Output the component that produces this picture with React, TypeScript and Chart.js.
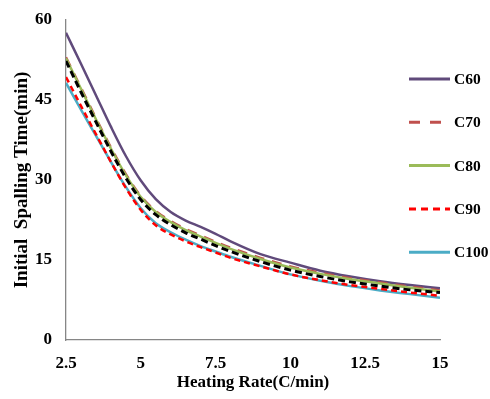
import React, { useEffect, useRef } from "react";
import { Chart, registerables } from "chart.js";

Chart.register(...registerables);

const heatingRates = [2.5, 3, 3.5, 4, 4.5, 5, 5.5, 6, 6.5, 7, 7.5, 8, 9, 10, 11, 12, 13, 14, 15];
const c60 = [57.6, 51.8, 45.9, 40.0, 34.5, 29.9, 26.4, 24.0, 22.4, 21.2, 19.9, 18.5, 16.1, 14.5, 13.0, 11.9, 11.0, 10.3, 9.7];
const c70 = [53.0, 47.3, 41.6, 36.1, 31.1, 27.0, 24.2, 22.3, 20.8, 19.6, 18.4, 17.3, 15.4, 13.8, 12.6, 11.6, 10.8, 10.0, 9.3];
const c80 = [52.8, 47.1, 41.4, 35.9, 30.9, 26.8, 24.0, 22.1, 20.6, 19.4, 18.2, 17.1, 15.2, 13.6, 12.4, 11.4, 10.6, 9.8, 9.1];
const c90 = [49.3, 43.9, 38.6, 33.4, 28.5, 24.4, 21.5, 19.8, 18.5, 17.4, 16.4, 15.4, 13.8, 12.3, 11.2, 10.3, 9.6, 8.9, 8.3];
const c100 = [48.2, 43.2, 38.3, 33.4, 28.7, 24.7, 21.9, 20.2, 18.8, 17.6, 16.6, 15.6, 13.9, 12.3, 11.1, 10.1, 9.3, 8.6, 7.9];
const unlabeled = [52.3, 46.5, 40.9, 35.4, 30.4, 26.3, 23.5, 21.6, 20.1, 18.9, 17.7, 16.6, 14.7, 13.1, 11.9, 10.9, 10.1, 9.4, 8.9];

const seriesLabels = ["C60", "C70", "C80", "C90", "C100"];
const xTitle = "Heating Rate(C/min)";
const yTitle = "Initial  Spalling Time(min)";

const FONT = "'Liberation Serif', 'Times New Roman', serif";

const toPoints = (ys: number[]) => heatingRates.map((x, i) => ({ x, y: ys[i] }));

const legendPlugin = {
  id: "sideLegend",
  afterDraw(chart: any) {
    const ctx = chart.ctx;
    const items = chart.data.datasets.filter((d: any) => d.inLegend);
    ctx.save();
    items.forEach((d: any, i: number) => {
      const y = 79 + i * 43.3;
      ctx.beginPath();
      ctx.strokeStyle = d.borderColor;
      ctx.lineWidth = 3;
      ctx.setLineDash(d.legendDash || []);
      ctx.moveTo(409, y);
      ctx.lineTo(450, y);
      ctx.stroke();
      ctx.setLineDash([]);
      ctx.fillStyle = "#000";
      ctx.font = `bold 15.5px ${FONT}`;
      ctx.textBaseline = "middle";
      ctx.textAlign = "left";
      ctx.fillText(d.label, 454, y + 1);
    });
    ctx.restore();
  },
};

export default function App() {
  const ref = useRef<HTMLCanvasElement | null>(null);
  useEffect(() => {
    if (!ref.current) return;
    const common = {
      fill: false,
      pointRadius: 0,
      cubicInterpolationMode: "monotone" as const,
      borderWidth: 2.5,
    };
    const chart = new Chart(ref.current, {
      type: "line",
      data: {
        datasets: [
          { ...common, label: seriesLabels[0], data: toPoints(c60), borderColor: "#604A7B", order: 5, inLegend: true } as any,
          { ...common, label: seriesLabels[1], data: toPoints(c70), borderColor: "#C0504D", borderDash: [10, 8], legendDash: [11, 10], order: 4, inLegend: true } as any,
          { ...common, label: seriesLabels[2], data: toPoints(c80), borderColor: "#9BBB59", order: 2, inLegend: true } as any,
          { ...common, label: seriesLabels[3], data: toPoints(c90), borderColor: "#FF0000", borderDash: [6, 4], legendDash: [7, 5], order: 1, inLegend: true } as any,
          { ...common, label: seriesLabels[4], data: toPoints(c100), borderColor: "#4BACC6", order: 3, inLegend: true } as any,
          { ...common, label: "", data: toPoints(unlabeled), borderColor: "#000000", borderWidth: 3, borderDash: [7, 4], order: 0, inLegend: false } as any,
        ],
      },
      options: {
        animation: false,
        responsive: false,
        maintainAspectRatio: false,
        layout: { padding: { left: 0, top: 20, right: 50, bottom: 0 } },
        plugins: { legend: { display: false }, tooltip: { enabled: false } },
        scales: {
          x: {
            type: "linear",
            min: 2.5,
            max: 15,
            afterFit: (s: any) => { s.height = 59; s.paddingLeft = 0; s.paddingRight = 0; },
            grid: { display: false, drawTicks: false },
            border: { display: true, color: "#868686", width: 1.3 },
            ticks: {
              stepSize: 2.5,
              padding: 13,
              color: "#000",
              font: { family: FONT, size: 17, weight: "bold" },
            },
            title: {
              display: true,
              text: xTitle,
              color: "#000",
              font: { family: FONT, size: 17, weight: "bold" },
              padding: { top: 0, bottom: 6 },
            },
          },
          y: {
            min: 0,
            max: 60,
            afterFit: (s: any) => { s.width = 66; s.paddingTop = 0; s.paddingBottom = 0; },
            grid: { display: false, drawTicks: false },
            border: { display: true, color: "#868686", width: 1.3 },
            ticks: {
              stepSize: 15,
              padding: 14,
              color: "#000",
              font: { family: FONT, size: 17, weight: "bold" },
            },
            title: {
              display: true,
              text: yTitle,
              color: "#000",
              font: { family: FONT, size: 19, weight: "bold" },
              padding: { top: 11, bottom: 0 },
            },
          },
        },
      },
      plugins: [legendPlugin],
    } as any);
    return () => chart.destroy();
  }, []);
  return (
    <div style={{ position: "absolute", left: 0, top: 0, width: 490, height: 399, background: "#fff" }}>
      <canvas ref={ref} width={490} height={399} style={{ width: 490, height: 399 }} />
    </div>
  );
}
